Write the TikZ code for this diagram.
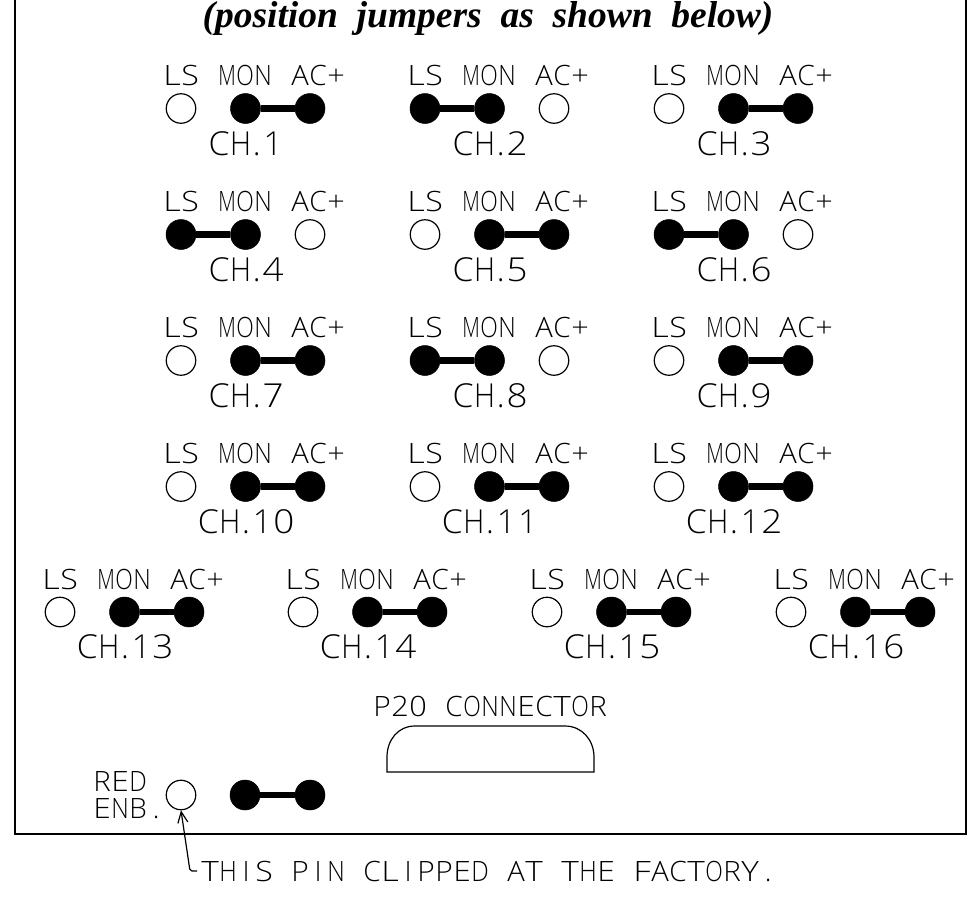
\documentclass[tikz,border=0pt]{standalone}
\usepackage{fontspec}
\usepackage{graphicx}
\newfontfamily\cad{Open Sans Light}
\setmainfont{Liberation Serif}
\usetikzlibrary{arrows.meta}
\newlength{\monogw}
\def\monocell#1{\makebox[\monocw]{\setlength{\monogw}{\monocw}\addtolength{\monogw}{-0.5pt}\resizebox{\monogw}{\height}{#1}}}
\def\monoplain#1{\makebox[\monocw]{#1}}
\def\monoloop#1{\ifx#1\relax\let\mononext\relax\else
  \ifx#1.\makebox[\monodw]{.}\else
  \ifx#1~\monoplain{~}\else
  \ifx#1I\monoplain{I}\else
  \ifx#11\monoplain{1}\else
  \monocell{#1}\fi\fi\fi\fi
  \let\mononext\monoloop\fi\mononext}
\newcommand{\mono}[3]{\def\monocw{#1}\def\monodw{#2}\monoloop#3\relax}
\tikzset{
  x=1pt,y=-1pt,
  pinopen/.style={circle,draw=black,line width=1.2pt,fill=white,minimum size=29.5pt,inner sep=0pt},
  pinfull/.style={circle,draw=black,fill=black,line width=0.5pt,minimum size=30pt,inner sep=0pt},
  jumper/.style={line width=6.5pt,black},
  lbl/.style={inner sep=0pt,font=\fontsize{28}{28}\selectfont\cad},
  chlbl/.style={inner sep=0pt,font=\fontsize{33}{33}\selectfont\cad},
  frame/.style={line width=1.7pt,black},
  thin line/.style={line width=1.2pt,black}
}
\newcommand{\lb}[1]{\mono{18pt}{18pt}{#1}}
\newcommand{\chgroup}[5]{% id, x of LS, y of pins, label, mode (L = LS-MON, R = MON-AC)
  \node[lbl] (ls#1) at (#2,#3-33) {\lb{LS}};
  \node[lbl] (mon#1) at (#2+64,#3-33) {\lb{MON}};
  \node[lbl] (ac#1) at (#2+137,#3-33) {\lb{AC+}};
  \node[chlbl] (ch#1) at (#2+65,#3+35) {\mono{21.5pt}{11pt}{CH.#4}};
  \if#5L
    \node[pinfull] (a#1) at (#2,#3) {};
    \node[pinfull] (b#1) at (#2+64.5,#3) {};
    \node[pinopen] (c#1) at (#2+129,#3) {};
    \draw[jumper] (a#1) -- (b#1);
  \else
    \node[pinopen] (a#1) at (#2,#3) {};
    \node[pinfull] (b#1) at (#2+64.5,#3) {};
    \node[pinfull] (c#1) at (#2+129,#3) {};
    \draw[jumper] (b#1) -- (c#1);
  \fi
}
\begin{document}
\begin{tikzpicture}
\useasboundingbox (0,0) rectangle (979,911);
\fill[white] (0,0) rectangle (979,911);
\draw[frame] (15,0) -- (15,834) -- (966,834) -- (966,0);
\node[inner sep=0pt,font=\fontsize{37.5}{37.5}\selectfont\bfseries\itshape] (title) at (488,18.5) {(position\ \ jumpers\ \ as\ \ shown\ \ below)};
\chgroup{1}{181}{108.5}{1}{R}
\chgroup{2}{425}{108.5}{2}{L}
\chgroup{3}{669}{108.5}{3}{R}
\chgroup{4}{181}{234.5}{4}{L}
\chgroup{5}{425}{234.5}{5}{R}
\chgroup{6}{669}{234.5}{6}{L}
\chgroup{7}{181}{360.5}{7}{R}
\chgroup{8}{425}{360.5}{8}{L}
\chgroup{9}{669}{360.5}{9}{R}
\chgroup{10}{181}{486.5}{10}{R}
\chgroup{11}{425}{486.5}{11}{R}
\chgroup{12}{669}{486.5}{12}{R}
\chgroup{13}{60}{612}{13}{R}
\chgroup{14}{303}{612}{14}{R}
\chgroup{15}{547}{612}{15}{R}
\chgroup{16}{791}{612}{16}{R}
\node[lbl] (p20) at (490,706) {\lb{P20~CONNECTOR}};
\draw[thin line] (387,772) -- (387,757) .. controls (387,740) and (398,726) .. (415,726) -- (565,726) .. controls (582,726) and (594,740) .. (594,757) -- (594,772) -- cycle;
\node[lbl,anchor=west] (red) at (93,781) {\lb{RED}};
\node[lbl,anchor=west] (enb) at (93,809) {\lb{ENB.}};
\node[pinopen] (rp) at (181,795) {};
\node[pinfull] (r1) at (245,795) {};
\node[pinfull] (r2) at (310,795) {};
\draw[jumper] (r1) -- (r2);
\node[lbl,anchor=west] (note) at (201,871) {\lb{THIS~PIN~CLIPPED~AT~THE~FACTORY.}};
\draw[thin line,-{Straight Barb[length=11pt,width=10pt]},rounded corners=2pt] (note.west) ++(-4,0) -- (190,871) -- (rp.south);
\end{tikzpicture}
\end{document}
